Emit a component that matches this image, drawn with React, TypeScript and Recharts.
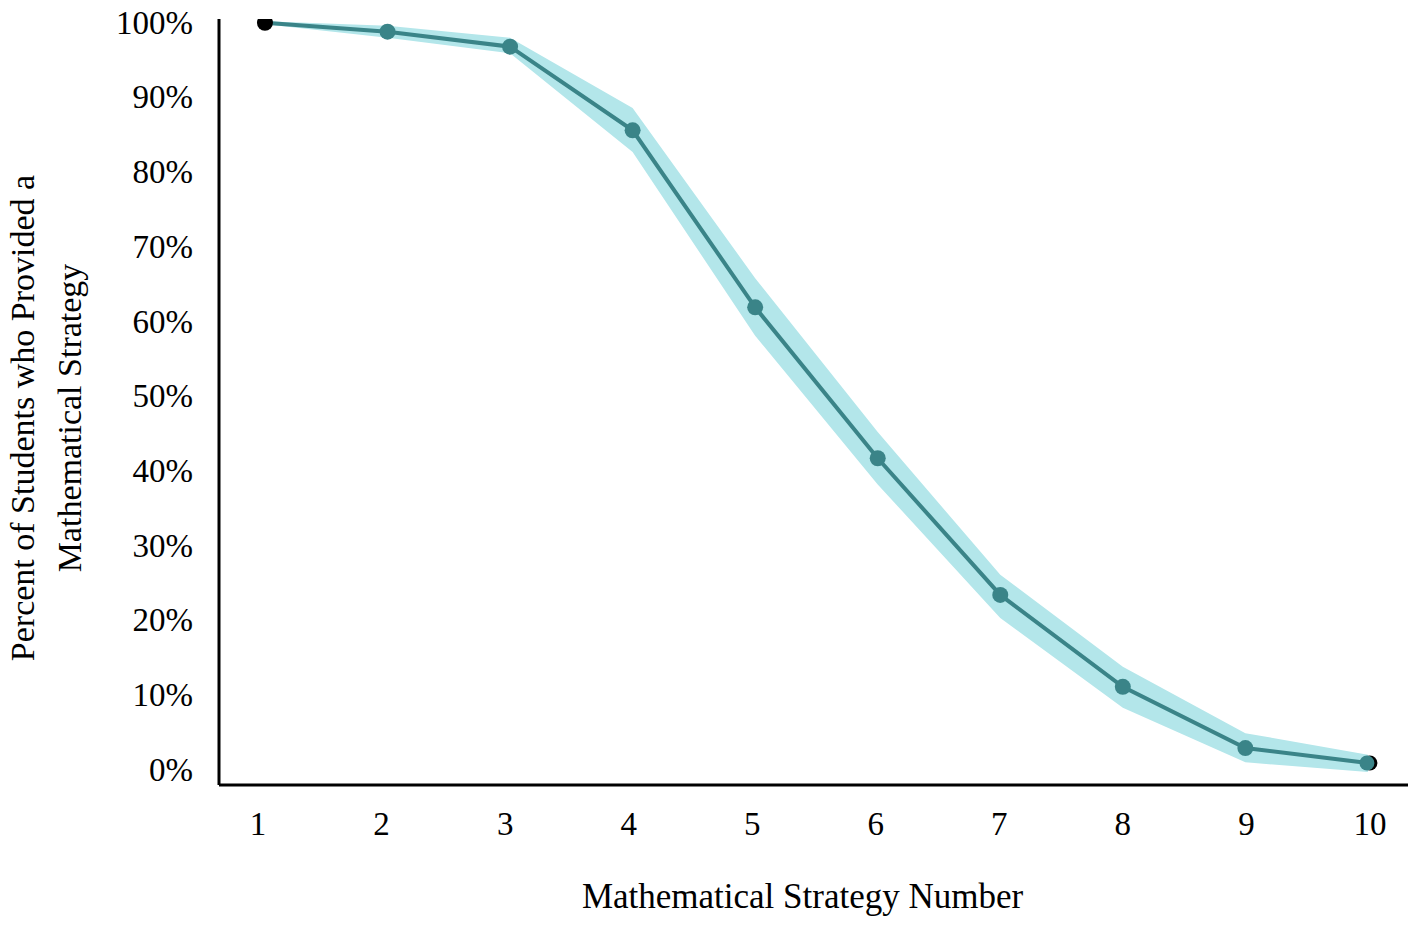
import { Area, ComposedChart, Line, XAxis, YAxis } from "recharts";

const strategyNumbers = [1, 2, 3, 4, 5, 6, 7, 8, 9, 10];
const percentProvided = [99.9, 98.7, 96.7, 85.5, 61.8, 41.6, 23.3, 11.0, 2.8, 0.8];
const bandLow = [99.7, 97.9, 95.8, 82.6, 58.0, 38.1, 20.2, 8.2, 0.9, -0.4];
const bandHigh = [100.1, 99.5, 97.9, 88.5, 65.7, 45.1, 26.0, 13.7, 4.8, 1.9];
const yTicks = [0, 10, 20, 30, 40, 50, 60, 70, 80, 90, 100];

const data = strategyNumbers.map((n, i) => ({
  strategy: n,
  pct: percentProvided[i],
  band: [bandLow[i], bandHigh[i]],
}));

const FONT = "'Liberation Serif', 'Times New Roman', serif";
const TEAL = "#3a8488";
const BAND = "#b3e6ea";

function StrategyDot(props: any) {
  const { cx, cy, index } = props;
  if (cx == null || cy == null) return null;
  if (index === 0) {
    return <circle cx={cx} cy={cy} r={8} fill="#000" />;
  }
  if (index === strategyNumbers.length - 1) {
    return (
      <g>
        <circle cx={cx + 2} cy={cy} r={7.5} fill="#000" />
        <circle cx={cx - 1} cy={cy} r={7.5} fill={TEAL} />
      </g>
    );
  }
  return <circle cx={cx} cy={cy} r={8} fill={TEAL} />;
}

function YTitle(props: any) {
  const { viewBox } = props;
  const cy = viewBox.y + viewBox.height / 2 + 16;
  return (
    <g>
      <text
        transform={`translate(34, ${cy}) rotate(-90)`}
        textAnchor="middle"
        fontFamily={FONT}
        fontSize={34}
        fill="#000"
      >
        Percent of Students who Provided a
      </text>
      <text
        transform={`translate(81, ${cy}) rotate(-90)`}
        textAnchor="middle"
        fontFamily={FONT}
        fontSize={34}
        fill="#000"
      >
        Mathematical Strategy
      </text>
    </g>
  );
}

function XTitle(props: any) {
  const { viewBox } = props;
  const cx = viewBox.x + viewBox.width / 2 - 11;
  return (
    <text x={cx} y={908} textAnchor="middle" fontFamily={FONT} fontSize={35} fill="#000">
      Mathematical Strategy Number
    </text>
  );
}

export default function App() {
  return (
    <div style={{ width: 1418, height: 925, background: "#fff" }}>
      <style>{`body{margin:0;background:#fff}`}</style>
      <ComposedChart
        width={1418}
        height={925}
        data={data}
        margin={{ top: 19, right: 10, left: 0, bottom: 0 }}
      >
        <XAxis
          xAxisId="pts"
          dataKey="strategy"
          type="number"
          domain={[0.625, 10.327]}
          allowDataOverflow
          hide
        />
        <XAxis
          xAxisId="lbl"
          dataKey="strategy"
          type="number"
          domain={[0.684, 10.308]}
          ticks={strategyNumbers}
          interval={0}
          allowDataOverflow
          height={140}
          tickLine={false}
          tickSize={0}
          tickMargin={27}
          axisLine={{ stroke: "#000", strokeWidth: 3 }}
          tick={{ fontSize: 33, fontFamily: FONT, fill: "#000" }}
          label={<XTitle />}
        />
        <YAxis
          type="number"
          domain={[-2.14, 100.4]}
          allowDataOverflow
          ticks={yTicks}
          interval={0}
          width={219}
          tickLine={false}
          tickSize={0}
          tickMargin={26}
          axisLine={{ stroke: "#000", strokeWidth: 3 }}
          tickFormatter={(v: number) => `${v}%`}
          tick={{ fontSize: 33, fontFamily: FONT, fill: "#000" }}
          label={<YTitle />}
        />
        <Area
          xAxisId="pts"
          type="linear"
          dataKey="band"
          stroke="none"
          fill={BAND}
          fillOpacity={1}
          isAnimationActive={false}
        />
        <Line
          xAxisId="pts"
          type="linear"
          dataKey="pct"
          stroke={TEAL}
          strokeWidth={4}
          dot={<StrategyDot />}
          activeDot={false}
          isAnimationActive={false}
        />
      </ComposedChart>
    </div>
  );
}
